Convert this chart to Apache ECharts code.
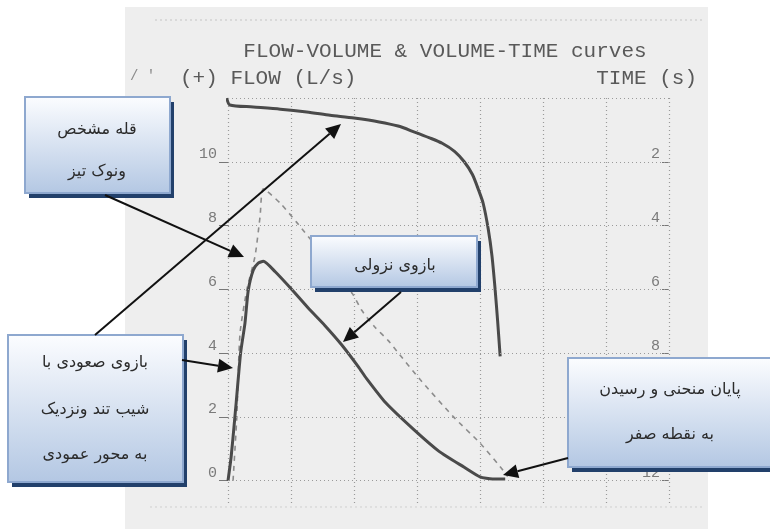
<!DOCTYPE html>
<html>
<head>
<meta charset="utf-8">
<script src="https://cdn.jsdelivr.net/npm/echarts@6/dist/echarts.min.js"></script>
<style>
html,body{margin:0;padding:0;background:#ffffff;}
#chart{width:770px;height:529px;}
</style>
</head>
<body>
<div id="chart"></div>
<script>
// ---- data ----
const titleText = 'FLOW-VOLUME & VOLUME-TIME curves';
const flowAxisName = '(+) FLOW (L/s)';
const timeAxisName = 'TIME (s)';
const volumeTicks = [0, 1, 2, 3, 4, 5, 6, 7];
const flowTicks = [0, 2, 4, 6, 8, 10, 12];
const flowLabels = [0, 2, 4, 6, 8, 10];
const timeLabels = [2, 4, 6, 8, 10, 12];

// measured flow-volume loop: [volume (L), flow (L/s)]
const flowVolume = [
  [0, 0], [0.05, 0.75], [0.1, 1.8], [0.13, 2.45], [0.2, 4.0], [0.27, 4.95],
  [0.32, 5.95], [0.4, 6.6], [0.48, 6.82], [0.56, 6.88], [0.75, 6.55], [1.01, 6.0],
  [1.27, 5.42], [1.54, 4.86], [1.8, 4.27], [2.07, 3.57], [2.2, 3.2], [2.5, 2.45],
  [2.95, 1.6], [3.35, 0.92], [3.75, 0.42], [4.0, 0.12], [4.2, 0.05], [4.4, 0.05]
];
// predicted flow-volume (dashed): [volume (L), flow (L/s)]
const predictedFlow = [
  [0.08, 0], [0.14, 2.0], [0.19, 4.6], [0.3, 6.0], [0.43, 7.05], [0.51, 8.3],
  [0.56, 9.15], [0.83, 8.7], [1.09, 8.1], [1.5, 7.1], [1.98, 5.85], [2.12, 5.35],
  [2.33, 4.82], [2.54, 4.4], [2.68, 4.06], [3.05, 3.17], [3.58, 2.0], [4.0, 1.18],
  [4.32, 0.44], [4.44, 0.13]
];
// volume-time curve: [volume (L), time (s)]
const volumeTime = [
  [-0.02, 0.0], [0.03, 0.22], [0.4, 0.28], [0.83, 0.35], [1.25, 0.44], [1.62, 0.54],
  [2.0, 0.63], [2.4, 0.75], [2.7, 0.88], [2.95, 1.06], [3.2, 1.25], [3.4, 1.42],
  [3.6, 1.68], [3.75, 2.0], [3.88, 2.4], [3.98, 2.9], [4.05, 3.3], [4.13, 4.1],
  [4.19, 4.95], [4.24, 6.0], [4.28, 7.0], [4.32, 8.1]
];

// annotation texts (Persian)
const noteTexts = [
  ['قله مشخص', 'ونوک تیز'],
  ['بازوی نزولی'],
  ['بازوی صعودی با', 'شیب تند ونزدیک', 'به محور عمودی'],
  ['پایان منحنی و رسیدن', 'به نقطه صفر']
];

// ---- layout of annotations (pixels) ----
const boxes = [
  {x: 25, y: 97, w: 145, h: 96, lines: [130, 172], cx: 97},
  {x: 311, y: 236, w: 166, h: 51, lines: [266], cx: 395},
  {x: 8, y: 335, w: 175, h: 147, lines: [363, 410, 455], cx: 95},
  {x: 568, y: 358, w: 210, h: 109, lines: [390, 435], cx: 670}
];
const arrows = [
  [105, 195, 244, 257],
  [95, 335, 341, 124],
  [182, 360, 233, 368],
  [401, 292, 343, 342],
  [568, 458, 503, 475]
];

const PAPER = '#eeeeee';
const INK = '#4a4a4a';
const MONO = '"Liberation Mono", "DejaVu Sans Mono", monospace';

const graphics = [];
graphics.push({type: 'rect', z: -10, silent: true,
  shape: {x: 125, y: 7, width: 583, height: 522}, style: {fill: PAPER}});
graphics.push({type: 'line', z: -9, silent: true,
  shape: {x1: 155, y1: 20, x2: 705, y2: 20}, style: {stroke: '#c4c4c4', lineWidth: 1, lineDash: [2, 3]}});
graphics.push({type: 'line', z: -9, silent: true,
  shape: {x1: 150, y1: 507, x2: 705, y2: 507}, style: {stroke: '#cfcfcf', lineWidth: 1, lineDash: [2, 3]}});
graphics.push({type: 'text', z: 5, style: {text: titleText, x: 445, y: 51, align: 'center', verticalAlign: 'middle',
  font: '21px ' + MONO, fill: '#595959'}});
graphics.push({type: 'text', z: 5, style: {text: flowAxisName, x: 180, y: 78, align: 'left', verticalAlign: 'middle',
  font: '21px ' + MONO, fill: '#595959'}});
graphics.push({type: 'text', z: 5, style: {text: timeAxisName, x: 697, y: 78, align: 'right', verticalAlign: 'middle',
  font: '21px ' + MONO, fill: '#595959'}});
graphics.push({type: 'text', z: 5, style: {text: "/ '", x: 130, y: 76, align: 'left', verticalAlign: 'middle',
  font: '14px ' + MONO, fill: '#8a8a8a'}});

boxes.forEach(function (b, i) {
  graphics.push({type: 'rect', z: 100, shape: {x: b.x + 4, y: b.y + 5, width: b.w, height: b.h},
    style: {fill: '#22406b'}});
  graphics.push({type: 'rect', z: 101, shape: {x: b.x, y: b.y, width: b.w, height: b.h},
    style: {
      fill: {type: 'linear', x: 0, y: 0, x2: 0, y2: 1,
        colorStops: [{offset: 0, color: '#fcfdff'}, {offset: 1, color: '#b3c7e3'}]},
      stroke: '#8ea8cf', lineWidth: 2
    }});
  noteTexts[i].forEach(function (t, j) {
    graphics.push({type: 'text', z: 102, style: {text: t, x: b.cx, y: b.lines[j], align: 'center',
      verticalAlign: 'middle', font: '16px "DejaVu Sans", sans-serif', fill: '#2b2b2b'}});
  });
});

arrows.forEach(function (a) {
  const dx = a[2] - a[0], dy = a[3] - a[1];
  const len = Math.sqrt(dx * dx + dy * dy);
  const ux = dx / len, uy = dy / len;
  const hl = 15, hw = 7;
  const bx = a[2] - ux * hl, by = a[3] - uy * hl;
  graphics.push({type: 'line', z: 110, shape: {x1: a[0], y1: a[1], x2: bx, y2: by},
    style: {stroke: '#111111', lineWidth: 2}});
  graphics.push({type: 'polygon', z: 110, shape: {points: [[a[2], a[3]],
    [bx - uy * hw, by + ux * hw], [bx + uy * hw, by - ux * hw]]}, style: {fill: '#111111'}});
});

const chart = echarts.init(document.getElementById('chart'), null, {renderer: 'canvas'});
chart.setOption({
  backgroundColor: 'transparent',
  animation: false,
  grid: {left: 228, right: 101, top: 98, bottom: 26, containLabel: false},
  xAxis: {
    type: 'value', min: volumeTicks[0], max: volumeTicks[volumeTicks.length - 1], interval: 1,
    axisLine: {show: false}, axisTick: {show: false}, axisLabel: {show: false},
    splitLine: {show: true, lineStyle: {color: '#9a9a9a', type: [1, 3], width: 1.2}}
  },
  yAxis: [
    {
      type: 'value', min: -0.7, max: 12, position: 'left',
      axisLine: {show: false},
      axisTick: {show: true, length: 9, customValues: flowTicks.slice(0, flowTicks.length - 1),
        lineStyle: {color: '#777777', width: 1}},
      axisLabel: {show: true, customValues: flowLabels, margin: 11, verticalAlign: 'bottom',
        color: '#7a7a7a', fontFamily: MONO, fontSize: 15},
      splitLine: {show: false}
    },
    {
      type: 'value', min: 0, max: 12.7, inverse: true, position: 'right',
      axisLine: {show: false},
      axisTick: {show: true, inside: true, length: 7, customValues: timeLabels,
        lineStyle: {color: '#777777', width: 1}},
      axisLabel: {show: true, inside: true, customValues: timeLabels, margin: 9, verticalAlign: 'bottom',
        color: '#7a7a7a', fontFamily: MONO, fontSize: 15},
      splitLine: {show: false}
    }
  ],
  series: [
    {
      name: 'grid-flow', type: 'line', data: [], yAxisIndex: 0,
      markLine: {
        silent: true, symbol: 'none', label: {show: false},
        lineStyle: {color: '#9a9a9a', type: [1, 3], width: 1.2},
        data: flowTicks.map(function (v) { return {yAxis: v}; })
      }
    },
    {
      name: 'predicted', type: 'line', data: predictedFlow, yAxisIndex: 0, showSymbol: false,
      smooth: 0.2, lineStyle: {color: '#8c8c8c', width: 1.6, type: [5, 5]}, z: 3
    },
    {
      name: 'flow-volume', type: 'line', data: flowVolume, yAxisIndex: 0, showSymbol: false,
      smooth: 0.2, lineStyle: {color: INK, width: 3}, z: 4
    },
    {
      name: 'volume-time', type: 'line', data: volumeTime, yAxisIndex: 1, showSymbol: false,
      smooth: 0.25, lineStyle: {color: INK, width: 3}, z: 4
    }
  ],
  graphic: graphics
});
</script>
</body>
</html>
